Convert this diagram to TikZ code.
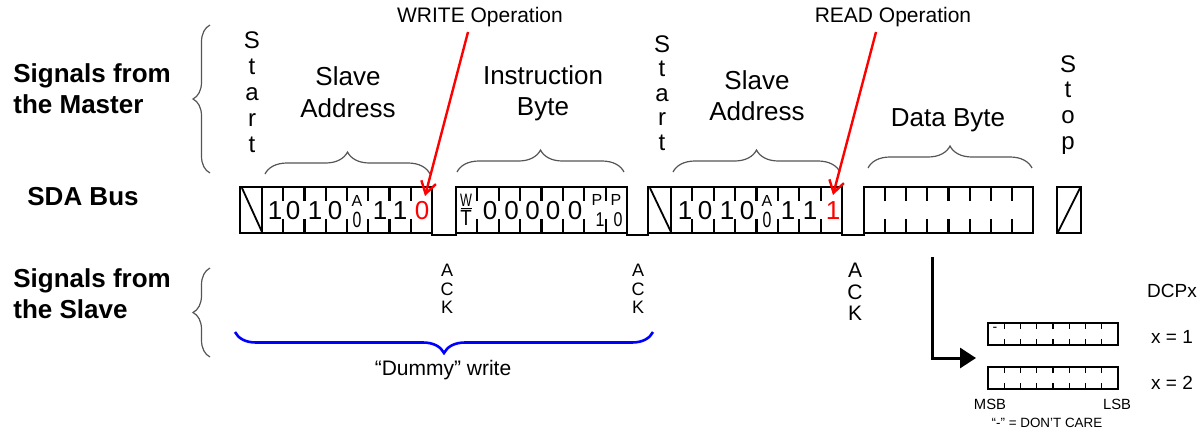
\documentclass[tikz,border=0pt]{standalone}
\usepackage{fontspec}
\usepackage{graphicx}
\setmainfont{Liberation Sans}
\usetikzlibrary{arrows.meta,decorations.pathreplacing}
\definecolor{bracegray}{RGB}{85,85,85}
\definecolor{sred}{RGB}{255,0,0}
\definecolor{sblue}{RGB}{0,0,255}
\newcommand{\fsz}[1]{\fontsize{#1}{#1}\selectfont}
\begin{document}
\begin{tikzpicture}[x=0.5pt,y=-0.5pt,
  lbl/.style={inner sep=0pt, anchor=base},
  busline/.style={line width=1.35pt, line join=miter},
  tickline/.style={line width=1.1pt},
  diagline/.style={line width=0.9pt},
  fieldbrace/.style={decorate, decoration={brace, amplitude=11pt}, draw=bracegray, line width=0.6pt},
  sidebrace/.style={decorate, decoration={brace, amplitude=8.5pt}, draw=bracegray, line width=0.6pt},
  dummybrace/.style={decorate, decoration={brace, amplitude=10.5pt}, draw=sblue, line width=1.3pt},
  oparrow/.style={draw=sred, line width=1.2pt, -{Straight Barb[length=6pt,width=7.5pt]}},
  bigarrow/.style={line width=1.5pt, -{Triangle[length=8pt,width=10pt]}},
  dcpline/.style={line width=0.65pt},
  bit/.style={lbl, font=\fsz{13}},
  head/.style={lbl, font=\fsz{13}},
  side/.style={inner sep=0pt, anchor=base west, font=\fsz{13}\bfseries},
  vlet/.style={lbl, font=\fsz{12}},
  ack/.style={lbl, font=\fsz{9}},
  ackb/.style={lbl, font=\fsz{10.5}},
  upch/.style={lbl, font=\fsz{8}},
  loch/.style={lbl, font=\fsz{11}}
]
\useasboundingbox (0,0) rectangle (1204,435);

% ---- left labels ----
\node[side] (m1) at (13,82) {Signals from};
\node[side] (m2) at (13,113) {the Master};
\node[side] (sda) at (27,205) {SDA Bus};
\node[side] (s1) at (13,287) {Signals from};
\node[side] (s2) at (13,318) {the Slave};
\draw[sidebrace] (210,173) -- (210,25);
\draw[sidebrace] (210,357) -- (210,268);

% ---- Start / Stop ----
\foreach \l/\yy [count=\i] in {S/48,t/74,a/100,r/126,t/152}
  \node[vlet] (st1\i) at (252,\yy) {\l};
\foreach \l/\yy [count=\i] in {S/52,t/76.5,a/101,r/125.5,t/150}
  \node[vlet] (st2\i) at (662,\yy) {\l};
\foreach \l/\yy [count=\i] in {S/72,t/97.5,o/123,p/149}
  \node[vlet] (sp\i) at (1068,\yy) {\l};

% ---- field headings ----
\node[head] (h1a) at (348,85) {Slave};
\node[head] (h1b) at (348,117) {Address};
\node[head] (h2a) at (543,84) {Instruction};
\node[head] (h2b) at (543,115) {Byte};
\node[head] (h3a) at (757,89) {Slave};
\node[head] (h3b) at (757,120) {Address};
\node[head] (h4) at (948,126) {Data Byte};

\draw[fieldbrace] (265,174) -- (430,174);
\draw[fieldbrace] (457,172) -- (624,172);
\draw[fieldbrace] (673,172) -- (840,172);
\draw[fieldbrace] (868,168) -- (1032,168);

% ---- SDA bus boxes ----
\draw[busline] (240,187) rectangle (432,233);
\draw[diagline] (242,188) -- (262,232);
\draw[busline] (262,187) -- (262,233);
\foreach \k in {1,...,7} {
  \pgfmathsetmacro\xx{262+21.25*\k}
  \draw[tickline] (\xx,187) -- (\xx,201) (\xx,219) -- (\xx,233);
}
\draw[busline] (432,233) -- (432,235) -- (456,235) -- (456,233);
\draw[busline] (456,187) rectangle (627,233);
\foreach \k in {1,...,7} {
  \pgfmathsetmacro\xx{456+21.375*\k}
  \draw[tickline] (\xx,187) -- (\xx,201) (\xx,219) -- (\xx,233);
}
\draw[busline] (627,233) -- (627,235) -- (648,235) -- (648,233);
\draw[busline] (648,187) rectangle (842,233);
\draw[diagline] (650,188) -- (671,232);
\draw[busline] (671,187) -- (671,233);
\foreach \k in {1,...,7} {
  \pgfmathsetmacro\xx{671+21.375*\k}
  \draw[tickline] (\xx,187) -- (\xx,201) (\xx,219) -- (\xx,233);
}
\draw[busline] (842,233) -- (842,235) -- (864,235) -- (864,233);
\draw[busline] (864,187) rectangle (1033,233);
\foreach \k in {1,...,7} {
  \pgfmathsetmacro\xx{864+21.125*\k}
  \draw[tickline] (\xx,187) -- (\xx,201) (\xx,219) -- (\xx,233);
}
\draw[busline] (1057,187) rectangle (1081,233);
\draw[diagline] (1058,232) -- (1080,188);

% ---- bits ----
\foreach \xx/\t [count=\i] in {275/1,293/0,315/1,335/0,380/1,400/1}
  \node[bit] (a\i) at (\xx,219) {\t};
\node[bit, text=sred] (aw) at (422,219) {0};
\node[upch] (aA) at (357,206) {A};
\node[loch] (aZ) at (357,227) {\scalebox{0.72}[1]{0}};

\node[lbl, font=\fsz{9}] (bW) at (466,206) {\scalebox{0.7}[1]{W}};
\draw[line width=0.8pt] (460.5,208.5) -- (471.5,208.5);
\node[loch] (bT) at (466,225.5) {\scalebox{0.85}[1]{T}};
\foreach \xx [count=\i] in {490,511.5,532.5,553,575}
  \node[bit] (b\i) at (\xx,219) {0};
\node[upch] (bP1) at (597,205.5) {P};
\node[lbl, font=\fsz{10}] (bP1n) at (600,226) {\scalebox{0.8}[1]{1}};
\node[upch] (bP0) at (616,205.5) {P};
\node[lbl, font=\fsz{10}] (bP0n) at (618,226) {\scalebox{0.8}[1]{0}};

\foreach \xx/\t [count=\i] in {685/1,705/0,727/1,747/0,788/1,810/1}
  \node[bit] (c\i) at (\xx,219) {\t};
\node[bit, text=sred] (cr) at (833,219) {1};
\node[upch] (cA) at (767,206) {A};
\node[loch] (cZ) at (767,227) {\scalebox{0.72}[1]{0}};

% ---- operation labels ----
\node[inner sep=0pt, font=\fsz{10.5}] (wop) at (480,17) {WRITE Operation};
\node[inner sep=0pt, font=\fsz{10.5}] (rop) at (893,17) {READ Operation};
\coordinate (wfrom) at (468,32);
\coordinate (wtip) at (425,196);
\coordinate (rfrom) at (876,32);
\coordinate (rtip) at (833,195);
\draw[oparrow] (wfrom) -- (wtip);
\draw[oparrow] (rfrom) -- (rtip);

% ---- ACKs ----
\foreach \l/\yy [count=\i] in {A/276.5,C/295,K/313.5} {
  \node[ack] (k1\i) at (447,\yy) {\l};
  \node[ack] (k2\i) at (638,\yy) {\l};
}
\foreach \l/\yy [count=\i] in {A/277.5,C/299,K/320}
  \node[ackb] (k3\i) at (855,\yy) {\l};

% ---- dummy write ----
\draw[dummybrace] (653,332) -- (235,332);
\node[lbl, font=\fsz{10.5}] (dw) at (443,375) {“Dummy” write};

% ---- DCP registers ----
\coordinate (dfrom) at (932,257);
\coordinate (dbend) at (932,358);
\coordinate (dto) at (976,358);
\draw[bigarrow] (dfrom) -- (dbend) -- (dto);

\draw[dcpline] (988,323) rectangle (1118,345);
\draw[dcpline] (988,367) rectangle (1118,389);
\foreach \k in {1,...,7} {
  \pgfmathsetmacro\xx{988+16.25*\k}
  \draw[dcpline] (\xx,323) -- (\xx,329) (\xx,339) -- (\xx,345);
  \draw[dcpline] (\xx,367) -- (\xx,373) (\xx,383) -- (\xx,389);
}
\node[inner sep=0pt, font=\fsz{7}] (dash) at (995,329) {-};
\node[inner sep=0pt, font=\fsz{9.5}] (dcpx) at (1172,291) {DCPx};
\node[inner sep=0pt, font=\fsz{9.5}] (x1) at (1172,337) {x = 1};
\node[inner sep=0pt, font=\fsz{9.5}] (x2) at (1172,383) {x = 2};
\node[inner sep=0pt, font=\fsz{7.4}] (msb) at (990,404) {MSB};
\node[inner sep=0pt, font=\fsz{7.4}] (lsb) at (1117,404) {LSB};
\node[inner sep=0pt, font=\fsz{6.7}] (dc) at (1047,423) {“-” = DON'T CARE};
\end{tikzpicture}
\end{document}
